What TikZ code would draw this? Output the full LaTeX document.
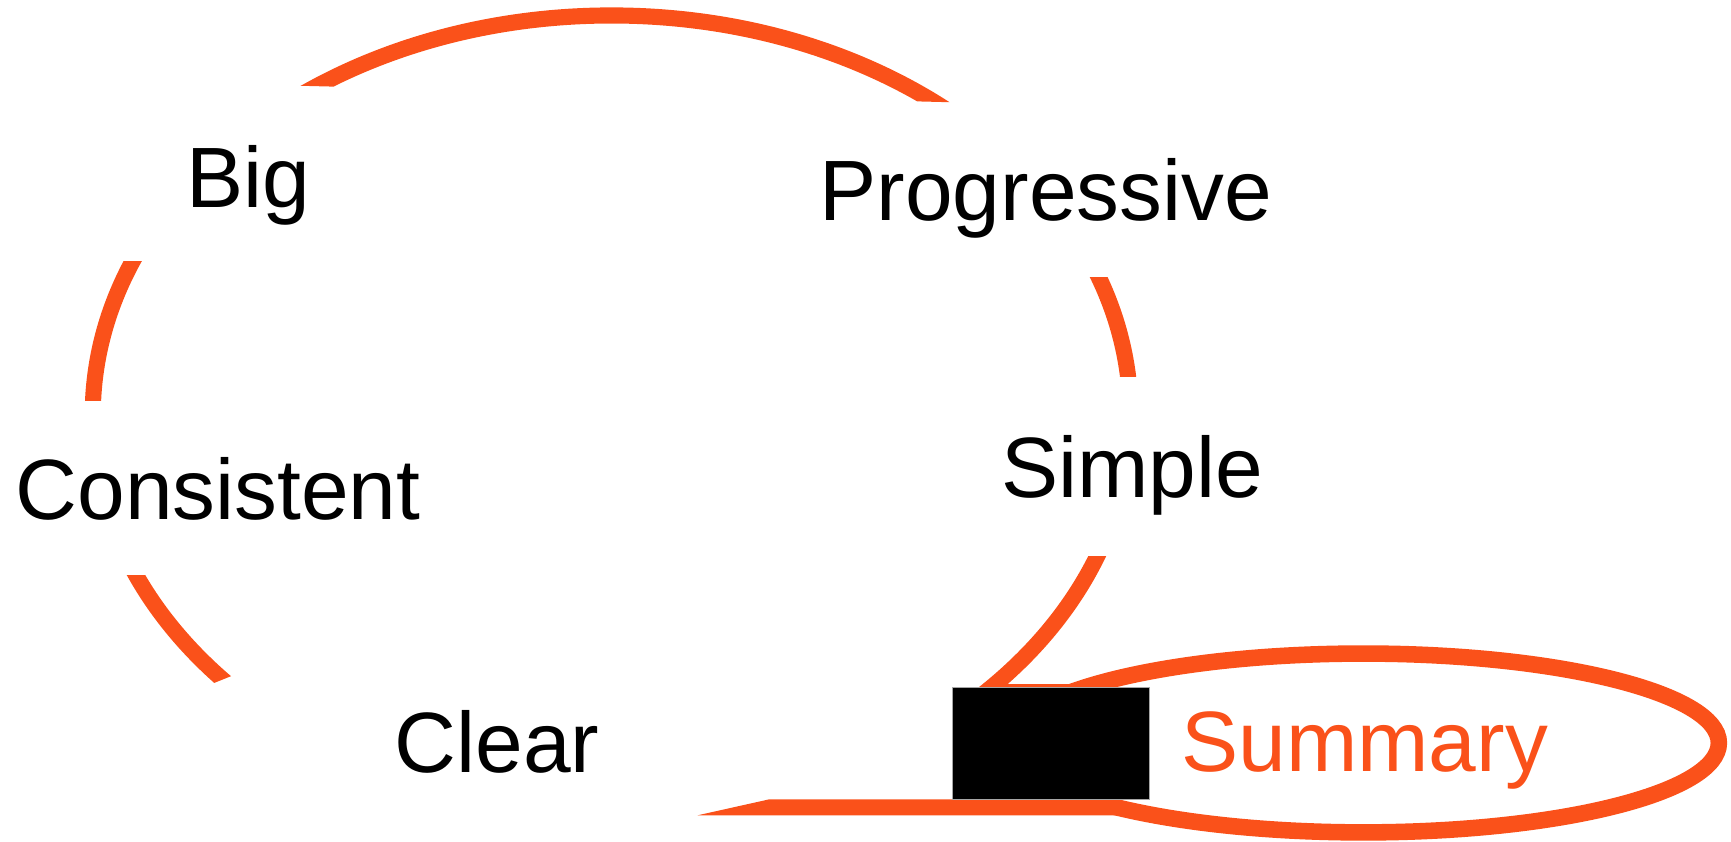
\documentclass[tikz,border=0pt]{standalone}
\usepackage{fontspec}
\setmainfont{Liberation Sans}
\definecolor{org}{RGB}{250,81,26}
\begin{document}
\begin{tikzpicture}[x=0.5pt,y=-0.5pt,
  arcline/.style={draw=org,line width=7.3pt},
  word/.style={anchor=base west,inner sep=0pt,font=\fontsize{38.8}{46}\selectfont}]
\useasboundingbox (0,0) rectangle (1568,762);
% main cycle arcs (parts of one ellipse)
\begin{scope}
\clip (0,-20) -- (1568,-20) -- (1568,110.5) -- (0,70.8) -- cycle;
\draw[arcline] (554,376) ellipse [x radius=235pt, y radius=181pt];
\end{scope}
\begin{scope}
\clip (0,237) rectangle (300,363);
\draw[arcline] (554,376) ellipse [x radius=235pt, y radius=181pt];
\end{scope}
\begin{scope}
\clip (900,251) rectangle (1100,341);
\draw[arcline] (554,376) ellipse [x radius=235pt, y radius=181pt];
\end{scope}
\begin{scope}
\clip (0,521) -- (260,521) -- (260,592) -- (0,697) -- cycle;
\draw[arcline] (554,376) ellipse [x radius=235pt, y radius=181pt];
\end{scope}
\begin{scope}
\clip (870,504) rectangle (1100,645);
\draw[arcline] (554,376) ellipse [x radius=235pt, y radius=181pt];
\end{scope}
% summary outline
\draw[arcline,line width=7.5pt] (1235,673) ellipse [x radius=161pt, y radius=40.5pt];
\fill[org] (632,738.5) -- (697,724) -- (1015,724) -- (1015,738.5) -- cycle;
\fill[org] (900,619.6) rectangle (975,630);
% black box
\node[name=box, draw=gray!70, line width=0.4pt, fill=black, inner sep=0pt,
  minimum width=89.3pt, minimum height=50.65pt] at (952.3,673.15) {};
% words
\node[word, name=big] at (168.8,187.8) {Big};
\node[word, name=prog] at (742,199.3) {Progressive};
\node[word, name=cons] at (13.7,470.4) {Consistent};
\node[word, name=simple] at (906.7,450.8) {Simple};
\node[word, name=clear] at (357,699.9) {Clear};
\node[word, name=summary, text=org] at (1069.8,699) {Summary};
\end{tikzpicture}
\end{document}
